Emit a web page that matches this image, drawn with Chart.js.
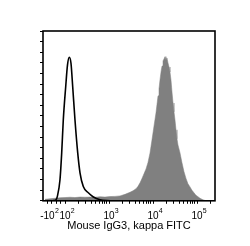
<!DOCTYPE html>
<html>
<head>
<meta charset="utf-8">
<script src="https://cdn.jsdelivr.net/npm/chart.js@4/dist/chart.umd.min.js"></script>
<style>
  body { margin: 0; background: #fff; }
</style>
</head>
<body>
<canvas id="myChart" width="250" height="246"></canvas>
<script>
// x values are in display decades of the logicle axis (2 = 10^2, 3 = 10^3 ...)
const controlPos = [1.727, 1.795, 1.825, 1.886, 1.925, 1.961, 2.016, 2.057, 2.098, 2.136, 2.175, 2.227, 2.289, 2.341, 2.416, 2.530, 2.636, 2.795, 3.023];
const controlCounts = [0, 0.6, 2.5, 12.4, 28.2, 47.6, 67.2, 80, 84.5, 81, 67.2, 47.6, 28.2, 16.5, 8.4, 4.7, 2.4, 0.6, 0];

const stainedPos = [1.545, 1.659, 1.773, 1.886, 2.000, 2.114, 2.227, 2.341, 2.455, 2.568, 2.682, 2.795, 2.909, 3.023, 3.136, 3.250, 3.364, 3.477, 3.545, 3.614, 3.659, 3.705, 3.750, 3.795, 3.841, 3.886, 3.932, 3.977, 4.023, 4.068, 4.114, 4.136, 4.159, 4.182, 4.205, 4.227, 4.250, 4.273, 4.295, 4.318, 4.341, 4.364, 4.386, 4.409, 4.432, 4.455, 4.477, 4.500, 4.523, 4.545, 4.568, 4.614, 4.659, 4.705, 4.750, 4.795, 4.841, 4.886, 4.932, 4.977, 5.023, 5.068, 5.136, 5.205];
const stainedCounts = [0.9, 1.2, 1.5, 1.8, 1.9, 2.1, 1.9, 2.2, 2.1, 2.2, 2.1, 2.4, 2.2, 2.5, 2.6, 2.9, 3.8, 5.0, 5.9, 7.1, 8.5, 10.6, 13.2, 15.9, 18.8, 22.6, 28.2, 35.9, 44.1, 51.8, 61.8, 65.9, 71.2, 75.9, 79.4, 82.4, 83.5, 84.9, 82.9, 84.1, 81.2, 78.8, 75.9, 71.2, 64.1, 57.6, 52.4, 47.6, 41.8, 36.5, 32.9, 28.2, 22.4, 17.1, 13.2, 10.0, 8.2, 6.2, 4.7, 3.2, 2.4, 1.5, 0.6, 0];

// axis ticks
const majorTickPos = [1.60, 2, 3, 4, 5];
const majorTickBase = ['-10', '10', '10', '10', '10'];
const majorTickExp = ['2', '2', '3', '4', '5'];
const minorTickPos = [1.70, 1.80, 1.90];
for (let k = 2; k <= 5; k++) {
    for (let m = 2; m <= 9; m++) {
        minorTickPos.push(k + Math.log10(m));
    }
}

const xMin = 1.5, xMax = 5.409;

let myChart = document.getElementById('myChart').getContext('2d');

// frame around the plot + superscript tick labels
const flowPlugin = {
    id: 'flowPlugin',
    afterDraw(chart) {
        const ctx = chart.ctx;
        const a = chart.chartArea;
        const xs = chart.scales.x;
        ctx.save();
        ctx.strokeStyle = '#000';
        ctx.lineWidth = 1.6;
        ctx.strokeRect(a.left, a.top, a.right - a.left, a.bottom - a.top);

        ctx.fillStyle = '#000';
        ctx.textBaseline = 'alphabetic';
        for (let i = 0; i < majorTickPos.length; i++) {
            let x = xs.getPixelForValue(majorTickPos[i]);
            ctx.font = '10px "Liberation Sans", Arial, sans-serif';
            let w1 = ctx.measureText(majorTickBase[i]).width;
            ctx.font = '7px "Liberation Sans", Arial, sans-serif';
            let w2 = ctx.measureText(majorTickExp[i]).width;
            let start = x - (w1 + w2) / 2 + 2;
            ctx.font = '10px "Liberation Sans", Arial, sans-serif';
            ctx.fillText(majorTickBase[i], start, 218.5);
            ctx.font = '7px "Liberation Sans", Arial, sans-serif';
            ctx.fillText(majorTickExp[i], start + w1 + 0.2, 212.5);
        }
        ctx.restore();
    }
};

const chart = () => {
    let flowChart = new Chart(myChart, {
        type: 'line',
        data: {
            datasets: [{
                label: 'Mouse IgG3, kappa isotype',
                data: controlPos.map((p, i) => ({x: p, y: controlCounts[i]})),
                borderColor: '#000',
                borderWidth: 1.6,
                pointRadius: 0,
                fill: false,
                cubicInterpolationMode: 'monotone',
                order: 0
            }, {
                label: 'Stained',
                data: stainedPos.map((p, i) => ({x: p, y: stainedCounts[i]})),
                borderColor: '#808080',
                borderWidth: 0.5,
                backgroundColor: '#808080',
                pointRadius: 0,
                fill: 'origin',
                tension: 0,
                order: 1
            }]
        },
        options: {
            responsive: false,
            animation: false,
            events: [],
            layout: {
                padding: {left: 40, top: 31, right: 35, bottom: 0}
            },
            plugins: {
                legend: {display: false},
                tooltip: {enabled: false}
            },
            scales: {
                x: {
                    type: 'linear',
                    min: xMin,
                    max: xMax,
                    afterBuildTicks: (scale) => {
                        scale.ticks = majorTickPos.concat(minorTickPos)
                            .filter(v => v >= xMin && v <= xMax)
                            .map(v => ({value: v}));
                    },
                    ticks: {display: false},
                    grid: {
                        drawOnChartArea: false,
                        drawTicks: true,
                        tickLength: 3,
                        tickColor: '#000',
                        tickWidth: 1
                    },
                    border: {display: false},
                    title: {
                        display: true,
                        text: 'Mouse IgG3, kappa FITC',
                        color: '#000',
                        font: {family: '"Liberation Sans", Arial, sans-serif', size: 11},
                        padding: {top: 15.5, bottom: 13.5}
                    }
                },
                y: {
                    min: 0,
                    max: 100,
                    ticks: {display: false, stepSize: 6.25},
                    grid: {
                        drawOnChartArea: false,
                        drawTicks: true,
                        tickLength: 3,
                        tickColor: '#000',
                        tickWidth: 1
                    },
                    border: {display: false}
                }
            }
        },
        plugins: [flowPlugin]
    });
};

chart();
</script>
</body>
</html>
